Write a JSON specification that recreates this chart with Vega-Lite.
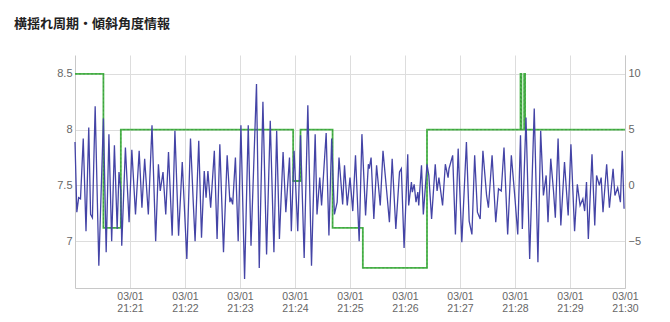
{
  "$schema": "https://vega.github.io/schema/vega-lite/v6.json",
  "width": 550,
  "height": 233,
  "padding": {"left": 5, "top": 18, "right": 5, "bottom": 5},
  "background": "white",
  "title": {
    "text": "横揺れ周期・傾斜角度情報",
    "anchor": "start",
    "font": "Noto Sans CJK JP",
    "fontSize": 13,
    "fontWeight": "bold",
    "color": "#222222",
    "offset": 24,
    "dx": 9
  },
  "config": {
    "view": {"stroke": null},
    "axis": {
      "labelFont": "Liberation Sans",
      "labelFontSize": 11,
      "labelColor": "#666666",
      "ticks": false,
      "domainColor": "#c8c8c8",
      "gridColor": "#dddddd",
      "title": null
    }
  },
  "datasets": {
    "roll": [
      {"t": "2024-03-01T21:20:00", "v": 7.89},
      {"t": "2024-03-01T21:20:02", "v": 7.26},
      {"t": "2024-03-01T21:20:04", "v": 7.39},
      {"t": "2024-03-01T21:20:06", "v": 7.38},
      {"t": "2024-03-01T21:20:09", "v": 7.92},
      {"t": "2024-03-01T21:20:12", "v": 7.09},
      {"t": "2024-03-01T21:20:15", "v": 8.02},
      {"t": "2024-03-01T21:20:17", "v": 7.24},
      {"t": "2024-03-01T21:20:19", "v": 7.21},
      {"t": "2024-03-01T21:20:22", "v": 8.21},
      {"t": "2024-03-01T21:20:26", "v": 6.78},
      {"t": "2024-03-01T21:20:31", "v": 8.10},
      {"t": "2024-03-01T21:20:34", "v": 6.90},
      {"t": "2024-03-01T21:20:37", "v": 7.96},
      {"t": "2024-03-01T21:20:40", "v": 7.00},
      {"t": "2024-03-01T21:20:43", "v": 7.86},
      {"t": "2024-03-01T21:20:46", "v": 7.11},
      {"t": "2024-03-01T21:20:48", "v": 7.62},
      {"t": "2024-03-01T21:20:50", "v": 7.45},
      {"t": "2024-03-01T21:20:51", "v": 6.96},
      {"t": "2024-03-01T21:20:55", "v": 7.84},
      {"t": "2024-03-01T21:20:59", "v": 7.17},
      {"t": "2024-03-01T21:21:02", "v": 7.82},
      {"t": "2024-03-01T21:21:06", "v": 7.24},
      {"t": "2024-03-01T21:21:10", "v": 7.81},
      {"t": "2024-03-01T21:21:13", "v": 7.30},
      {"t": "2024-03-01T21:21:16", "v": 7.74},
      {"t": "2024-03-01T21:21:20", "v": 7.24},
      {"t": "2024-03-01T21:21:24", "v": 8.04},
      {"t": "2024-03-01T21:21:28", "v": 7.00},
      {"t": "2024-03-01T21:21:31", "v": 7.69},
      {"t": "2024-03-01T21:21:33", "v": 7.45},
      {"t": "2024-03-01T21:21:36", "v": 7.62},
      {"t": "2024-03-01T21:21:39", "v": 7.24},
      {"t": "2024-03-01T21:21:42", "v": 7.80},
      {"t": "2024-03-01T21:21:46", "v": 7.05},
      {"t": "2024-03-01T21:21:49", "v": 7.99},
      {"t": "2024-03-01T21:21:53", "v": 7.05},
      {"t": "2024-03-01T21:21:57", "v": 7.71},
      {"t": "2024-03-01T21:22:02", "v": 6.84},
      {"t": "2024-03-01T21:22:06", "v": 7.92},
      {"t": "2024-03-01T21:22:09", "v": 7.35},
      {"t": "2024-03-01T21:22:11", "v": 7.00},
      {"t": "2024-03-01T21:22:15", "v": 7.90},
      {"t": "2024-03-01T21:22:18", "v": 7.03},
      {"t": "2024-03-01T21:22:21", "v": 7.63},
      {"t": "2024-03-01T21:22:23", "v": 7.39},
      {"t": "2024-03-01T21:22:25", "v": 7.63},
      {"t": "2024-03-01T21:22:28", "v": 7.30},
      {"t": "2024-03-01T21:22:32", "v": 7.81},
      {"t": "2024-03-01T21:22:35", "v": 7.02},
      {"t": "2024-03-01T21:22:38", "v": 7.87},
      {"t": "2024-03-01T21:22:42", "v": 6.90},
      {"t": "2024-03-01T21:22:46", "v": 7.77},
      {"t": "2024-03-01T21:22:49", "v": 7.35},
      {"t": "2024-03-01T21:22:50", "v": 7.39},
      {"t": "2024-03-01T21:22:52", "v": 7.33},
      {"t": "2024-03-01T21:22:55", "v": 7.75},
      {"t": "2024-03-01T21:22:58", "v": 7.00},
      {"t": "2024-03-01T21:23:01", "v": 8.04},
      {"t": "2024-03-01T21:23:05", "v": 6.66},
      {"t": "2024-03-01T21:23:09", "v": 8.04},
      {"t": "2024-03-01T21:23:12", "v": 6.96},
      {"t": "2024-03-01T21:23:18", "v": 8.41},
      {"t": "2024-03-01T21:23:21", "v": 6.76},
      {"t": "2024-03-01T21:23:25", "v": 8.25},
      {"t": "2024-03-01T21:23:29", "v": 6.88},
      {"t": "2024-03-01T21:23:33", "v": 8.08},
      {"t": "2024-03-01T21:23:37", "v": 6.90},
      {"t": "2024-03-01T21:23:40", "v": 7.99},
      {"t": "2024-03-01T21:23:43", "v": 7.02},
      {"t": "2024-03-01T21:23:47", "v": 7.80},
      {"t": "2024-03-01T21:23:50", "v": 7.26},
      {"t": "2024-03-01T21:23:54", "v": 7.75},
      {"t": "2024-03-01T21:23:56", "v": 7.09},
      {"t": "2024-03-01T21:23:59", "v": 7.81},
      {"t": "2024-03-01T21:24:03", "v": 7.09},
      {"t": "2024-03-01T21:24:06", "v": 7.95},
      {"t": "2024-03-01T21:24:10", "v": 6.85},
      {"t": "2024-03-01T21:24:14", "v": 8.22},
      {"t": "2024-03-01T21:24:18", "v": 6.78},
      {"t": "2024-03-01T21:24:22", "v": 7.96},
      {"t": "2024-03-01T21:24:24", "v": 7.24},
      {"t": "2024-03-01T21:24:27", "v": 7.57},
      {"t": "2024-03-01T21:24:29", "v": 7.32},
      {"t": "2024-03-01T21:24:34", "v": 7.97},
      {"t": "2024-03-01T21:24:37", "v": 7.05},
      {"t": "2024-03-01T21:24:40", "v": 7.92},
      {"t": "2024-03-01T21:24:43", "v": 7.24},
      {"t": "2024-03-01T21:24:46", "v": 7.35},
      {"t": "2024-03-01T21:24:48", "v": 7.75},
      {"t": "2024-03-01T21:24:52", "v": 7.33},
      {"t": "2024-03-01T21:24:54", "v": 7.68},
      {"t": "2024-03-01T21:24:57", "v": 7.32},
      {"t": "2024-03-01T21:25:00", "v": 7.57},
      {"t": "2024-03-01T21:25:03", "v": 7.27},
      {"t": "2024-03-01T21:25:06", "v": 7.77},
      {"t": "2024-03-01T21:25:10", "v": 7.00},
      {"t": "2024-03-01T21:25:13", "v": 7.96},
      {"t": "2024-03-01T21:25:17", "v": 7.23},
      {"t": "2024-03-01T21:25:20", "v": 7.69},
      {"t": "2024-03-01T21:25:21", "v": 7.65},
      {"t": "2024-03-01T21:25:23", "v": 7.75},
      {"t": "2024-03-01T21:25:26", "v": 7.20},
      {"t": "2024-03-01T21:25:29", "v": 7.68},
      {"t": "2024-03-01T21:25:33", "v": 7.32},
      {"t": "2024-03-01T21:25:36", "v": 7.81},
      {"t": "2024-03-01T21:25:40", "v": 7.45},
      {"t": "2024-03-01T21:25:43", "v": 7.17},
      {"t": "2024-03-01T21:25:46", "v": 7.74},
      {"t": "2024-03-01T21:25:50", "v": 7.11},
      {"t": "2024-03-01T21:25:54", "v": 7.62},
      {"t": "2024-03-01T21:25:56", "v": 7.65},
      {"t": "2024-03-01T21:25:59", "v": 6.94},
      {"t": "2024-03-01T21:26:03", "v": 7.78},
      {"t": "2024-03-01T21:26:04", "v": 7.32},
      {"t": "2024-03-01T21:26:07", "v": 7.53},
      {"t": "2024-03-01T21:26:08", "v": 7.44},
      {"t": "2024-03-01T21:26:10", "v": 7.51},
      {"t": "2024-03-01T21:26:12", "v": 7.35},
      {"t": "2024-03-01T21:26:14", "v": 7.44},
      {"t": "2024-03-01T21:26:15", "v": 7.32},
      {"t": "2024-03-01T21:26:18", "v": 7.68},
      {"t": "2024-03-01T21:26:20", "v": 7.24},
      {"t": "2024-03-01T21:26:24", "v": 7.69},
      {"t": "2024-03-01T21:26:26", "v": 7.59},
      {"t": "2024-03-01T21:26:29", "v": 7.20},
      {"t": "2024-03-01T21:26:33", "v": 7.69},
      {"t": "2024-03-01T21:26:35", "v": 7.45},
      {"t": "2024-03-01T21:26:37", "v": 7.57},
      {"t": "2024-03-01T21:26:41", "v": 7.32},
      {"t": "2024-03-01T21:26:44", "v": 7.69},
      {"t": "2024-03-01T21:26:47", "v": 7.57},
      {"t": "2024-03-01T21:26:48", "v": 7.65},
      {"t": "2024-03-01T21:26:52", "v": 7.77},
      {"t": "2024-03-01T21:26:55", "v": 7.06},
      {"t": "2024-03-01T21:26:58", "v": 7.83},
      {"t": "2024-03-01T21:27:02", "v": 6.99},
      {"t": "2024-03-01T21:27:07", "v": 7.89},
      {"t": "2024-03-01T21:27:10", "v": 7.18},
      {"t": "2024-03-01T21:27:13", "v": 7.06},
      {"t": "2024-03-01T21:27:16", "v": 7.77},
      {"t": "2024-03-01T21:27:19", "v": 7.26},
      {"t": "2024-03-01T21:27:22", "v": 7.20},
      {"t": "2024-03-01T21:27:25", "v": 7.81},
      {"t": "2024-03-01T21:27:29", "v": 7.41},
      {"t": "2024-03-01T21:27:31", "v": 7.30},
      {"t": "2024-03-01T21:27:35", "v": 7.77},
      {"t": "2024-03-01T21:27:39", "v": 7.17},
      {"t": "2024-03-01T21:27:42", "v": 7.47},
      {"t": "2024-03-01T21:27:45", "v": 7.45},
      {"t": "2024-03-01T21:27:48", "v": 7.84},
      {"t": "2024-03-01T21:27:52", "v": 7.06},
      {"t": "2024-03-01T21:27:56", "v": 7.77},
      {"t": "2024-03-01T21:28:00", "v": 7.38},
      {"t": "2024-03-01T21:28:03", "v": 7.06},
      {"t": "2024-03-01T21:28:06", "v": 7.95},
      {"t": "2024-03-01T21:28:08", "v": 7.11},
      {"t": "2024-03-01T21:28:12", "v": 8.11},
      {"t": "2024-03-01T21:28:16", "v": 6.84},
      {"t": "2024-03-01T21:28:21", "v": 8.19},
      {"t": "2024-03-01T21:28:25", "v": 6.81},
      {"t": "2024-03-01T21:28:28", "v": 7.99},
      {"t": "2024-03-01T21:28:31", "v": 7.41},
      {"t": "2024-03-01T21:28:34", "v": 7.59},
      {"t": "2024-03-01T21:28:36", "v": 7.17},
      {"t": "2024-03-01T21:28:39", "v": 7.74},
      {"t": "2024-03-01T21:28:42", "v": 7.45},
      {"t": "2024-03-01T21:28:44", "v": 7.21},
      {"t": "2024-03-01T21:28:47", "v": 7.92},
      {"t": "2024-03-01T21:28:50", "v": 7.14},
      {"t": "2024-03-01T21:28:54", "v": 7.71},
      {"t": "2024-03-01T21:28:58", "v": 7.23},
      {"t": "2024-03-01T21:29:01", "v": 7.87},
      {"t": "2024-03-01T21:29:05", "v": 7.09},
      {"t": "2024-03-01T21:29:08", "v": 7.51},
      {"t": "2024-03-01T21:29:11", "v": 7.32},
      {"t": "2024-03-01T21:29:14", "v": 7.38},
      {"t": "2024-03-01T21:29:16", "v": 7.27},
      {"t": "2024-03-01T21:29:18", "v": 7.53},
      {"t": "2024-03-01T21:29:20", "v": 7.02},
      {"t": "2024-03-01T21:29:24", "v": 7.78},
      {"t": "2024-03-01T21:29:27", "v": 7.14},
      {"t": "2024-03-01T21:29:29", "v": 7.59},
      {"t": "2024-03-01T21:29:32", "v": 7.50},
      {"t": "2024-03-01T21:29:34", "v": 7.57},
      {"t": "2024-03-01T21:29:36", "v": 7.26},
      {"t": "2024-03-01T21:29:40", "v": 7.69},
      {"t": "2024-03-01T21:29:43", "v": 7.30},
      {"t": "2024-03-01T21:29:47", "v": 7.65},
      {"t": "2024-03-01T21:29:49", "v": 7.41},
      {"t": "2024-03-01T21:29:52", "v": 7.48},
      {"t": "2024-03-01T21:29:55", "v": 7.35},
      {"t": "2024-03-01T21:29:57", "v": 7.81},
      {"t": "2024-03-01T21:29:59", "v": 7.29}
    ],
    "tilt": [
      {"t": "2024-03-01T21:20:00", "a": 10},
      {"t": "2024-03-01T21:20:31", "a": -3.8},
      {"t": "2024-03-01T21:20:50", "a": 5},
      {"t": "2024-03-01T21:23:58", "a": 0.4},
      {"t": "2024-03-01T21:24:06", "a": 5},
      {"t": "2024-03-01T21:24:41", "a": -3.8},
      {"t": "2024-03-01T21:25:14", "a": -7.4},
      {"t": "2024-03-01T21:26:24", "a": 5},
      {"t": "2024-03-01T21:28:06", "a": 10},
      {"t": "2024-03-01T21:28:07", "a": 5},
      {"t": "2024-03-01T21:28:10", "a": 10},
      {"t": "2024-03-01T21:28:11", "a": 5},
      {"t": "2024-03-01T21:30:00", "a": 5}
    ]
  },
  "encoding": {
    "x": {
      "field": "t",
      "type": "temporal",
      "scale": {
        "domain": [
          {"year": 2024, "month": 3, "date": 1, "hours": 21, "minutes": 20},
          {"year": 2024, "month": 3, "date": 1, "hours": 21, "minutes": 30}
        ]
      },
      "axis": {
        "values": [
          {"year": 2024, "month": 3, "date": 1, "hours": 21, "minutes": 21},
          {"year": 2024, "month": 3, "date": 1, "hours": 21, "minutes": 22},
          {"year": 2024, "month": 3, "date": 1, "hours": 21, "minutes": 23},
          {"year": 2024, "month": 3, "date": 1, "hours": 21, "minutes": 24},
          {"year": 2024, "month": 3, "date": 1, "hours": 21, "minutes": 25},
          {"year": 2024, "month": 3, "date": 1, "hours": 21, "minutes": 26},
          {"year": 2024, "month": 3, "date": 1, "hours": 21, "minutes": 27},
          {"year": 2024, "month": 3, "date": 1, "hours": 21, "minutes": 28},
          {"year": 2024, "month": 3, "date": 1, "hours": 21, "minutes": 29},
          {"year": 2024, "month": 3, "date": 1, "hours": 21, "minutes": 30}
        ],
        "labelExpr": "[timeFormat(datum.value, '%m/%d'), timeFormat(datum.value, '%H:%M')]",
        "labelFlush": false,
        "labelOverlap": false,
        "labelBound": false,
        "labelPadding": 3,
        "labelLineHeight": 12,
        "labelFontSize": 10.5,
        "grid": true
      }
    }
  },
  "layer": [
    {
      "data": {"name": "tilt"},
      "layer": [
        {
          "mark": {"type": "line", "interpolate": "step-after", "color": "#4cb84c", "strokeWidth": 1.8},
          "encoding": {
            "y": {
              "field": "a",
              "type": "quantitative",
              "scale": {"domain": [-9.2, 11.7], "nice": false, "zero": false},
              "axis": {"orient": "right", "values": [-5, 0, 5, 10], "grid": false, "labelPadding": 3, "minExtent": 20}
            }
          }
        },
        {
          "mark": {"type": "line", "interpolate": "step-after", "color": "#2e6e2e", "strokeWidth": 0.7, "strokeDash": [2, 2], "opacity": 0.55},
          "encoding": {
            "y": {"field": "a", "type": "quantitative"}
          }
        }
      ]
    },
    {
      "data": {"name": "roll"},
      "mark": {"type": "line", "color": "#4444a6", "strokeWidth": 1.3},
      "encoding": {
        "y": {
          "field": "v",
          "type": "quantitative",
          "scale": {"domain": [6.58, 8.67], "nice": false, "zero": false},
          "axis": {"orient": "left", "values": [7, 7.5, 8, 8.5], "format": "~g", "grid": true, "labelPadding": 3, "minExtent": 70, "maxExtent": 70}
        }
      }
    }
  ],
  "resolve": {"scale": {"y": "independent"}}
}
